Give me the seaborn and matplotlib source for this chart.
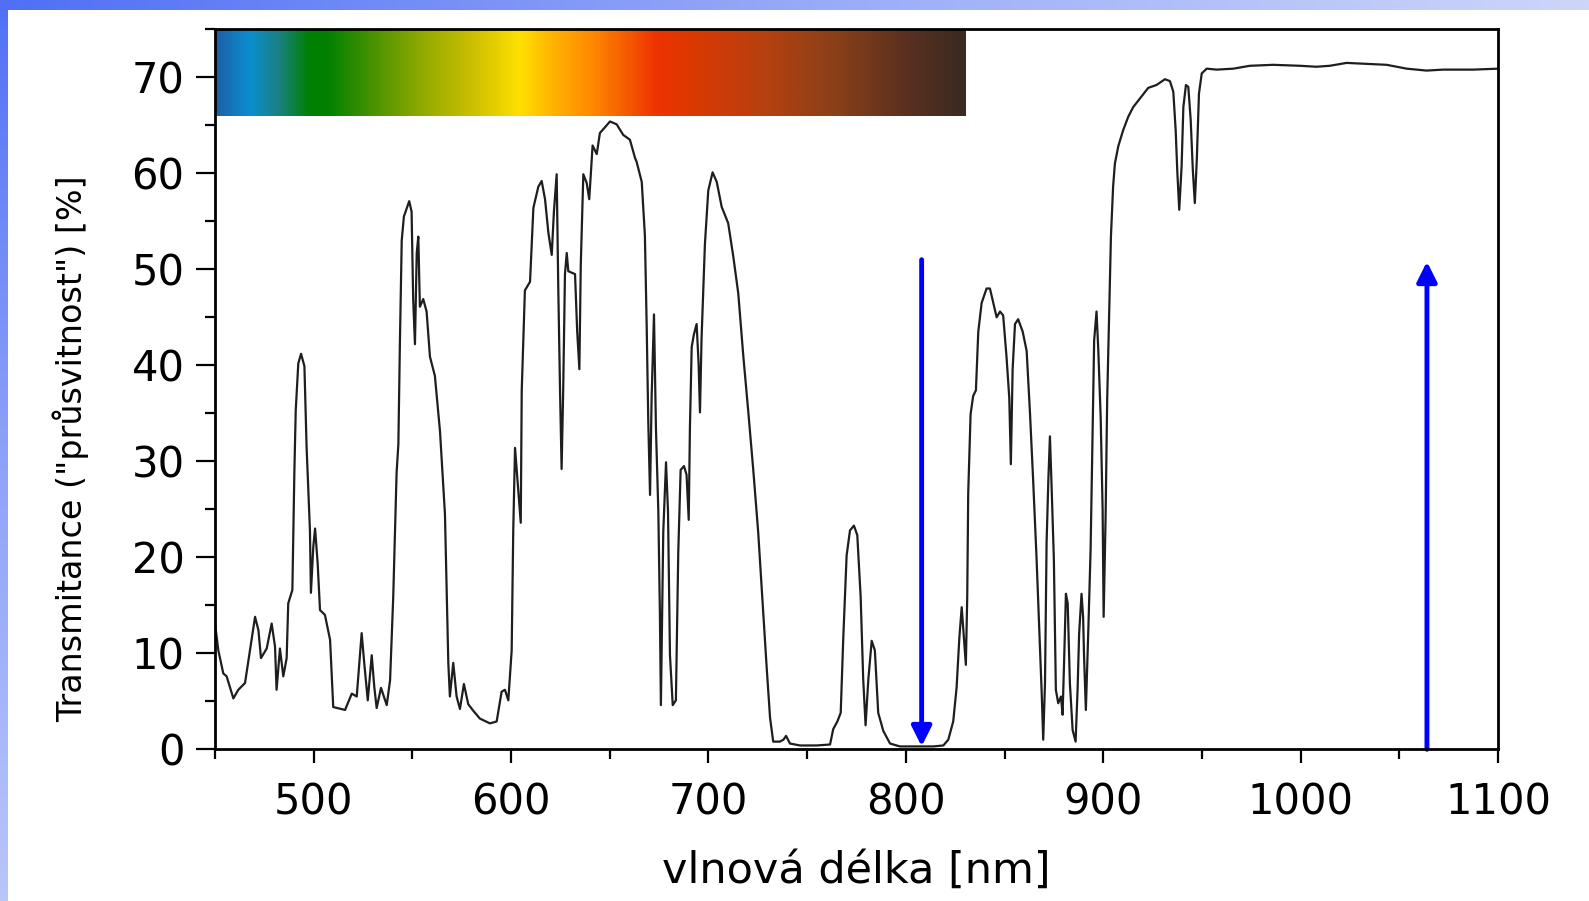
import numpy as np
import pandas as pd
import seaborn as sns
import matplotlib
matplotlib.use("Agg")
import matplotlib.pyplot as plt
from matplotlib.colors import LinearSegmentedColormap
from matplotlib.ticker import MultipleLocator

# ---------------- data ----------------
wavelength = [
    450, 451.7, 454.2, 455.9, 459.3, 461.8, 465.2, 467.7, 470.3, 472, 473.3, 476.2, 478.7, 480.4,
    481.2, 482.9, 484.6, 486.3, 487.1, 489.2, 490.2, 490.9, 492.2, 493.6, 495.3, 496.4, 498.1,
    498.6, 499.8, 500.7, 502, 503.2, 505.7, 508.3, 509.9, 515.9, 519.3, 521.8, 524.3, 525.6,
    527.4, 529.4, 530.7, 531.9, 534.1, 537, 538.7, 540.3, 542, 542.9, 543.7, 544.6, 545.7,
    548.4, 549.6, 550.4, 551.3, 552.2, 553, 553.8, 555.5, 557.2, 558.9, 561.4, 564, 566.5,
    568.2, 569, 570.7, 572.4, 574.1, 576.1, 578.3, 580.9, 584.2, 589.3, 592.7, 595.2, 596.9,
    598.6, 600.3, 601.1, 602, 603.6, 604.9, 605.4, 607, 609.6, 611.3, 613.8, 615.5, 617.2,
    618.9, 620.6, 621.7, 623.1, 623.9, 624.8, 625.6, 626.4, 627.3, 628.2, 629, 632.4, 633.5,
    634.6, 635.3, 636.6, 638.3, 639.6, 641.3, 643.4, 645, 647.6, 650.1, 653.5, 656.8, 660.2,
    662.8, 663.6, 666.2, 667.8, 668.7, 669.5, 670.4, 671.2, 672.4, 673.4, 674.6, 675.4, 675.9,
    677.1, 678.5, 679.5, 680.5, 681.9, 683.5, 684.7, 685.9, 687.6, 688.9, 690, 690.6, 691.5,
    692.6, 694, 695, 695.7, 696.5, 698.2, 699.9, 702.1, 704.2, 706.7, 710, 712.6, 715.1,
    717.6, 720.2, 722.7, 725.2, 727.8, 729.5, 731.2, 732.8, 736.2, 738, 739.3, 741.3, 746.4,
    754.8, 761.6, 763.2, 765.3, 767, 768.3, 770, 771.7, 773.7, 775.4, 777.1, 778.4, 779.6,
    781, 782.7, 784.3, 786, 788.6, 792, 797, 805.5, 813.9, 819, 821.5, 824, 825.7, 827.1,
    828.3, 829.4, 830.4, 831.1, 831.6, 832.8, 834.1, 835.5, 836.7, 838.4, 840.9, 842.6,
    844.3, 846, 847.7, 849.3, 851, 852.4, 853.2, 854.1, 855.3, 856.9, 859.2, 861.2, 862.9,
    864.5, 866.2, 867.6, 868.8, 869.6, 870.5, 871.3, 872.2, 873, 873.9, 875, 876, 877.2,
    878.6, 879.4, 880.2, 881.1, 882, 883.1, 884.5, 886, 887, 887.8, 889, 889.8, 890.3,
    891.2, 892.4, 893.6, 894.6, 895.4, 896.6, 897.5, 898.7, 899.7, 900.2, 901.2, 902, 903,
    903.9, 905, 905.9, 907.6, 910.1, 912.7, 915.2, 918.6, 922.8, 927, 931.3, 933.8, 935.5,
    936.7, 937.5, 938.5, 939.7, 940.6, 941.9, 943.1, 944.3, 945.4, 946.4, 947.4, 948.5,
    949.9, 952.4, 957.5, 965.9, 974.3, 986.1, 999.6, 1008, 1014.8, 1023.3, 1033.4, 1043.6,
    1053.7, 1063.8, 1072.2, 1087.5, 1100,
]
transmittance = [
    13.1, 10.3, 7.9, 7.6, 5.3, 6.2, 6.9, 10.3, 13.8, 12.4, 9.5, 10.5, 13.1, 10.7,
    6.2, 10.5, 7.6, 9.5, 15.2, 16.6, 28.8, 35.3, 40.2, 41.2, 39.9, 31.5, 22.8,
    16.3, 21.1, 23.0, 19.4, 14.5, 14.0, 11.4, 4.4, 4.1, 5.8, 5.5, 12.1, 9.0,
    5.1, 9.8, 6.5, 4.3, 6.4, 4.6, 7.2, 15.9, 28.8, 31.8, 42.6, 53.0, 55.5,
    57.1, 56.0, 46.9, 42.2, 51.7, 53.4, 46.1, 46.9, 45.6, 40.9, 38.9, 33.1, 24.5,
    9.0, 5.5, 9.0, 5.5, 4.2, 6.8, 4.7, 4.0, 3.2, 2.7, 2.9, 6.0, 6.2,
    5.1, 10.3, 22.8, 31.4, 27.1, 23.6, 37.4, 47.8, 48.7, 56.4, 58.6, 59.2, 57.3,
    53.8, 51.5, 56.0, 59.9, 48.2, 37.4, 29.2, 37.4, 49.5, 51.7, 49.8, 49.5, 43.5,
    39.6, 50.4, 59.9, 59.0, 57.3, 62.9, 62.0, 64.2, 64.8, 65.4, 65.1, 64.0, 63.5,
    61.6, 61.2, 59.1, 53.5, 44.1, 34.2, 26.5, 36.6, 45.3, 33.4, 24.8, 14.1, 4.6,
    22.6, 29.9, 24.8, 9.8, 4.6, 5.1, 20.5, 29.1, 29.5, 28.6, 23.9, 33.4, 41.9,
    43.2, 44.3, 40.2, 35.1, 42.8, 52.6, 58.2, 60.1, 59.1, 56.5, 54.8, 51.3, 47.5,
    41.1, 35.1, 29.1, 22.6, 14.1, 8.5, 3.3, 0.8, 0.8, 1.0, 1.4, 0.6, 0.4,
    0.4, 0.5, 2.1, 2.9, 3.8, 11.6, 20.2, 22.8, 23.3, 22.3, 15.9, 7.3, 2.5,
    7.3, 11.3, 10.3, 3.8, 1.9, 0.6, 0.3, 0.3, 0.3, 0.4, 1.0, 2.9, 6.4, 11.6,
    14.8, 11.6, 8.8, 15.9, 26.7, 34.9, 36.8, 37.4, 43.5, 46.5, 48.0, 48.0,
    46.5, 45.0, 45.6, 45.2, 40.9, 36.6, 29.7, 39.6, 44.3, 44.8, 43.5, 41.5, 35.0,
    28.0, 20.0, 12.4, 6.0, 1.0, 6.9, 21.5, 28.1, 32.6, 27.0, 19.7, 6.2, 4.8,
    5.5, 3.6, 9.3, 16.2, 15.2, 6.9, 2.0, 0.8, 6.2, 12.1, 16.2, 13.8, 9.6,
    4.1, 12.1, 20.8, 33.3, 42.6, 45.6, 41.6, 34.6, 24.9, 13.8, 24.2, 36.4, 45.1,
    53.4, 58.6, 61.0, 62.8, 64.5, 65.9, 66.9, 67.8, 68.9, 69.2, 69.8, 69.6, 68.5,
    64.5, 60.3, 56.2, 60.7, 66.9, 69.2, 69.0, 65.6, 60.3, 56.9, 61.4, 68.3,
    70.4, 70.9, 70.8, 70.9, 71.2, 71.3, 71.2, 71.1, 71.2, 71.5, 71.4, 71.3,
    70.9, 70.7, 70.8, 70.8, 70.9,
]

# visible-spectrum colour band (decoration)
band_nm = [450, 467, 482, 497, 506, 531, 555, 580, 604, 622, 641, 673, 690, 727, 764, 801, 830]
band_colors = ['#1d5fa6', '#0a8fd0', '#1a8080', '#008000', '#008000', '#4d9400', '#93aa00',
               '#cbbf00', '#ffe000', '#ffb000', '#ff8800', '#ee3300', '#dd3800', '#b84010',
               '#8a4018', '#5a3020', '#3a2a22']
band_range = [450, 830, 66, 75]

# laser lines (arrows)
arrow_x = [808, 1064]
arrow_start = [51, 0]
arrow_end = [0.3, 50.8]

x_ticks = [500, 600, 700, 800, 900, 1000, 1100]
y_ticks = [0, 10, 20, 30, 40, 50, 60, 70]

df = pd.DataFrame({"wl": wavelength, "T": transmittance})

# ---------------- style ----------------
sns.set_style("ticks")
plt.rcParams['font.family'] = ['DejaVu Sans']
plt.rcParams.update({'text.color': 'black', 'axes.labelcolor': 'black',
                     'xtick.color': 'black', 'ytick.color': 'black'})

W, H = 1589, 901
fig = plt.figure(figsize=(W / 100, H / 100), dpi=100, facecolor='white')

# blue decorative frame (left and top)
ax_top = fig.add_axes([0, 1 - 10 / H, 1, 10 / H])
ax_top.imshow(np.linspace(0, 1, 256)[None, :], aspect='auto',
              cmap=LinearSegmentedColormap.from_list('t', ['#4f6ff6', '#97aaf7', '#cdd6fa']))
ax_top.set_axis_off()
ax_left = fig.add_axes([0, 0, 7 / W, 1 - 10 / H])
ax_left.imshow(np.linspace(0, 1, 256)[:, None], aspect='auto',
               cmap=LinearSegmentedColormap.from_list('l', ['#5272f6', '#8ea2f8', '#b9c6fa']))
ax_left.set_axis_off()

L, R = 215 / W, 1498 / W
T, B = 29.3 / H, 749.3 / H
ax = fig.add_axes([L, 1 - B, R - L, B - T])
ax.set_facecolor('white')

# spectrum band
pos = [(v - band_nm[0]) / (band_nm[-1] - band_nm[0]) for v in band_nm]
cmap = LinearSegmentedColormap.from_list('spec', list(zip(pos, band_colors)))
ax.imshow(np.linspace(0, 1, 512)[None, :], cmap=cmap, aspect='auto',
          extent=band_range, zorder=0, interpolation='bilinear')

sns.lineplot(data=df, x="wl", y="T", ax=ax, color='#1e1e1e', linewidth=1.6,
             estimator=None, sort=False, zorder=3)

for x0, y0, y1 in zip(arrow_x, arrow_start, arrow_end):
    ax.annotate('', xy=(x0, y1), xytext=(x0, y0),
                arrowprops=dict(arrowstyle='-|>,head_length=0.6,head_width=0.3',
                                color='#0000ff', lw=3.5, mutation_scale=20,
                                shrinkA=0, shrinkB=0), zorder=4)

ax.set_xlim(450, 1100)
ax.set_ylim(0, 75)
ax.set_xticks(x_ticks)
ax.set_yticks(y_ticks)
ax.xaxis.set_minor_locator(MultipleLocator(50))
ax.yaxis.set_minor_locator(MultipleLocator(5))

for s in ax.spines.values():
    s.set_visible(True)
    s.set_linewidth(2.0)
    s.set_color('black')
    s.set_zorder(5)

ax.tick_params(axis='x', which='major', direction='out', length=10, width=1.6,
               labelsize=30, pad=13, top=False, colors='black')
ax.tick_params(axis='x', which='minor', direction='out', length=7, width=1.6, top=False)
ax.tick_params(axis='y', which='major', direction='out', length=14, width=1.6,
               labelsize=30, pad=8, right=False, colors='black')
ax.tick_params(axis='y', which='minor', direction='out', length=7, width=1.6, right=False)

ax.set_xlabel('vlnová délka [nm]', fontsize=31, va='center', color='black')
ax.xaxis.set_label_coords(0.5, -0.168)
ax.set_ylabel('Transmitance ("průsvitnost") [%]', fontsize=24, va='center', ha='center',
              color='black')
ax.yaxis.set_label_coords(-0.112, 0.418)

fig.savefig('out.png', dpi=100, facecolor='white')
